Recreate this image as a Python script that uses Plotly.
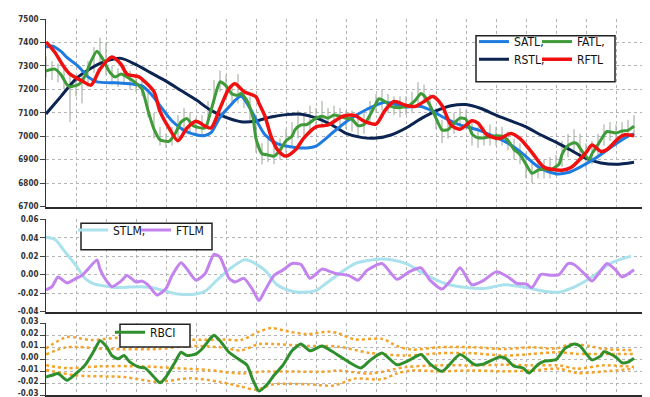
import plotly.graph_objects as go

# ---------------- data (x = bar number, 0..200) ----------------
RSTL_X = [0, 5, 10, 15, 20, 25, 30, 35, 40, 45, 50, 55, 60, 65, 70, 75, 80, 85, 90, 95, 100, 105, 110, 115, 120, 125, 130, 135, 140, 145, 150, 155, 160, 165, 170, 175, 180, 185, 190, 196]
RSTL_Y = [7095, 7170, 7245, 7290, 7320, 7332, 7305, 7270, 7235, 7195, 7155, 7110, 7080, 7062, 7065, 7082, 7092, 7094, 7078, 7050, 7012, 6995, 6992, 7005, 7035, 7075, 7108, 7130, 7135, 7118, 7090, 7065, 7040, 7005, 6975, 6940, 6905, 6886, 6880, 6889]

SATL_X = [0, 2, 5, 7, 11, 14, 17, 23, 28, 32, 35, 38, 42, 46, 50, 53, 55, 58, 61, 65, 68, 73, 77, 83, 87, 90, 96, 101, 107, 113, 120, 125, 128, 133, 138, 144, 150, 154, 158, 164, 170, 174, 178, 183, 188, 194, 196]
SATL_Y = [7380, 7385, 7362, 7336, 7295, 7253, 7232, 7228, 7224, 7215, 7180, 7130, 7065, 7025, 7006, 7003, 7015, 7080, 7125, 7170, 7119, 7006, 6968, 6952, 6950, 6958, 7020, 7070, 7115, 7145, 7125, 7127, 7112, 7077, 7048, 7027, 6995, 6970, 6935, 6870, 6840, 6845, 6868, 6905, 6950, 7000, 7010]

FATL_X = [0, 3, 5, 7, 8, 11, 13, 15, 17, 19, 21, 23, 25, 27, 30, 32, 34, 36, 38, 41, 43, 45, 47, 49, 53, 55, 57, 58, 60, 62, 64, 65, 67, 69, 70, 72, 74, 76, 78, 80, 82, 83, 85, 87, 90, 92, 94, 96, 98, 100, 102, 104, 106, 108, 110, 111, 113, 115, 118, 121, 123, 125, 126, 128, 130, 132, 134, 136, 138, 140, 142, 144, 147, 150, 152, 154, 156, 158, 160, 162, 164, 166, 168, 171, 172, 174, 176, 177, 179, 181, 182, 184, 186, 187, 190, 192, 194, 196]
FATL_Y = [7278, 7286, 7262, 7220, 7211, 7222, 7257, 7320, 7362, 7328, 7278, 7253, 7265, 7253, 7226, 7200, 7110, 7030, 6985, 6978, 7010, 7060, 7075, 7045, 7035, 7110, 7200, 7232, 7215, 7180, 7175, 7182, 7152, 7080, 6990, 6925, 6920, 6915, 6940, 6981, 7000, 7027, 7048, 7050, 7077, 7085, 7077, 7090, 7085, 7077, 7072, 7045, 7050, 7090, 7140, 7160, 7148, 7127, 7122, 7131, 7152, 7182, 7173, 7131, 7077, 7027, 7028, 7056, 7077, 7072, 7010, 6993, 6995, 7002, 7000, 6981, 6943, 6922, 6880, 6842, 6855, 6859, 6857, 6880, 6922, 6960, 6972, 6968, 6930, 6901, 6925, 6964, 7006, 7020, 7014, 7022, 7025, 7043]

RFTL_X = [0, 3, 6, 8, 12, 15, 18, 22, 25, 27, 31, 33, 36, 38, 41, 44, 47, 50, 53, 55, 58, 61, 63, 66, 70, 71, 73, 75, 77, 80, 83, 86, 90, 94, 99, 103, 106, 110, 113, 116, 120, 123, 126, 129, 132, 135, 138, 142, 144, 147, 151, 155, 158, 162, 166, 172, 175, 180, 182, 185, 187, 191, 193, 196]
RFTL_Y = [7402, 7357, 7295, 7265, 7236, 7218, 7286, 7338, 7307, 7265, 7253, 7232, 7190, 7106, 7035, 6981, 7035, 7064, 7043, 7035, 7119, 7203, 7224, 7190, 7168, 7140, 7085, 7000, 6945, 6915, 6940, 6993, 7040, 7048, 7085, 7088, 7064, 7052, 7110, 7148, 7131, 7127, 7148, 7169, 7131, 7048, 7030, 7066, 7056, 7006, 6990, 7012, 6990, 6930, 6868, 6855, 6866, 6930, 6962, 6935, 6943, 6993, 7006, 7002]

BAR_X = list(range(0, 197, 2))
BAR_LOW = [7250, 7240, 7230, 7200, 7060, 7170, 7140, 7210, 7270, 7300, 7260, 7220, 7210, 7230, 7200, 7190, 7170, 7080, 6990, 6960,
           6950, 6960, 6990, 7030, 7010, 7000, 7000, 7040, 7140, 7190, 7170, 7140, 7140, 7120, 7070, 6930, 6880, 6890, 6880, 6900,
           6930, 6960, 6990, 7000, 7020, 7040, 7040, 7040, 7050, 7040, 7030, 7020, 7000, 7010, 7050, 7100, 7110, 7100, 7090, 7080,
           7090, 7100, 7130, 7140, 7090, 7030, 6970, 6990, 7010, 7030, 7030, 6960, 6950, 6960, 6960, 6960, 6960, 6940, 6900, 6880,
           6820, 6800, 6820, 6820, 6820, 6830, 6870, 6910, 6930, 6900, 6860, 6880, 6920, 6960, 6980, 6980, 6980, 6990, 7000]
BAR_HIGH = [7340, 7320, 7310, 7300, 7270, 7260, 7270, 7320, 7380, 7420, 7400, 7300, 7290, 7300, 7280, 7260, 7240, 7200, 7100, 7040,
            7010, 7040, 7090, 7120, 7100, 7080, 7090, 7150, 7240, 7280, 7260, 7220, 7265, 7200, 7170, 7060, 6970, 6990, 6960, 6990,
            7030, 7060, 7110, 7100, 7130, 7120, 7150, 7120, 7130, 7120, 7110, 7110, 7090, 7100, 7150, 7180, 7200, 7180, 7170, 7170,
            7170, 7190, 7230, 7220, 7180, 7120, 7070, 7080, 7100, 7120, 7110, 7060, 7040, 7040, 7050, 7040, 7040, 7020, 6990, 6970,
            6930, 6890, 6900, 6900, 6910, 6920, 6980, 7010, 7030, 7010, 6970, 6980, 7010, 7050, 7060, 7050, 7060, 7070, 7090]

STLM_X = [0, 3, 6, 10, 13, 16, 21, 25, 31, 35, 40, 44, 50, 53, 57, 62, 66, 68, 73, 77, 82, 86, 90, 94, 100, 103, 112, 120, 126, 133, 140, 146, 153, 160, 166, 171, 175, 182, 188, 195]
STLM_Y = [0.0405, 0.038, 0.026, 0.010, -0.004, -0.010, -0.013, -0.014, -0.013, -0.014, -0.018, -0.021, -0.021, -0.018, -0.006, 0.008, 0.016, 0.015, 0.0046, -0.011, -0.018, -0.019, -0.017, -0.008, 0.006, 0.012, 0.017, 0.012, 0.001, -0.0096, -0.014, -0.015, -0.011, -0.014, -0.018, -0.019, -0.015, -0.0025, 0.012, 0.020]

FTLM_X = [0, 2, 4, 7, 10, 12, 14, 17, 18, 20, 22, 25, 27, 30, 32, 34, 37, 40, 42, 45, 47, 50, 53, 56, 58, 61, 63, 66, 69, 71, 73, 76, 79, 82, 85, 88, 92, 95, 97, 101, 104, 107, 112, 117, 121, 125, 128, 132, 135, 138, 142, 146, 150, 154, 157, 160, 162, 165, 168, 171, 174, 176, 180, 182, 185, 187, 190, 192, 196]
FTLM_Y = [-0.0166, -0.013, -0.0025, -0.009, -0.004, -0.001, 0.006, 0.016, 0.006, -0.006, -0.013, -0.007, -0.001, -0.008, -0.007, -0.011, -0.022, -0.015, -0.001, 0.013, 0.006, -0.006, 0.001, 0.022, 0.019, -0.004, -0.008, -0.004, -0.017, -0.028, -0.017, -0.001, 0.005, 0.012, 0.011, -0.004, 0.006, 0.003, 0.001, -0.001, -0.006, 0.0046, 0.012, -0.005, 0.003, 0.0074, -0.006, -0.0156, -0.006, 0.0074, -0.011, -0.006, 0.003, -0.0025, -0.0096, -0.010, -0.014, 0.0004, -0.0007, 0.0, 0.012, 0.011, -0.0007, -0.007, 0.0046, 0.012, 0.0046, -0.0025, 0.0053]

RBCI_X = [0, 2, 4, 7, 10, 13, 16, 18, 20, 22, 24, 26, 28, 31, 33, 36, 38, 40, 43, 45, 47, 50, 52, 55, 56, 58, 61, 64, 67, 69, 71, 74, 76, 79, 82, 85, 88, 92, 95, 97, 101, 105, 108, 112, 117, 121, 125, 128, 132, 138, 143, 146, 151, 153, 156, 159, 161, 164, 166, 170, 173, 176, 178, 182, 185, 186, 190, 192, 194, 196]
RBCI_Y = [-0.0149, -0.0135, -0.012, -0.0176, -0.012, -0.005, 0.007, 0.0154, 0.011, 0.003, 0.0003, 0.003, -0.0025, -0.0066, -0.0074, -0.0149, -0.0198, -0.0149, -0.0025, 0.0058, 0.003, 0.0044, 0.0085, 0.018, 0.020, 0.0154, 0.0058, 0.0003, -0.005, -0.0176, -0.0267, -0.0204, -0.0135, -0.005, 0.007, 0.0127, 0.007, 0.011, 0.007, 0.0039, -0.0025, -0.0074, -0.001, 0.0052, -0.0047, -0.001, 0.0039, -0.0039, -0.0102, 0.0039, -0.0047, -0.0039, 0.0017, 0.001, -0.0058, -0.0074, -0.0116, -0.0044, -0.0019, -0.0003, 0.009, 0.0127, 0.011, -0.0006, 0.003, 0.0063, 0.0017, -0.003, -0.0025, 0.0008]

BAND_UO_X = [0, 7, 15, 24, 37, 48, 60, 65, 71, 75, 81, 87, 94, 97, 103, 112, 117, 122, 131, 142, 153, 162, 170, 175, 181, 186, 196]
BAND_UO_Y = [0.009, 0.0185, 0.016, 0.018, 0.019, 0.0164, 0.0164, 0.016, 0.023, 0.026, 0.023, 0.021, 0.023, 0.022, 0.0165, 0.017, 0.011, 0.008, 0.010, 0.010, 0.0085, 0.010, 0.009, 0.0127, 0.011, 0.0085, 0.0075]
BAND_UI_X = [0, 7, 21, 37, 48, 58, 65, 71, 76, 87, 97, 108, 120, 131, 142, 153, 162, 171, 177, 186, 196]
BAND_UI_Y = [0.004, 0.010, 0.0085, 0.0085, 0.011, 0.010, 0.0074, 0.0127, 0.0127, 0.011, 0.0107, 0.0052, 0.003, 0.005, 0.005, 0.003, 0.0044, 0.0058, 0.0044, 0.0044, 0.0044]
BAND_LI_X = [0, 7, 18, 32, 43, 54, 65, 72, 82, 94, 97, 108, 120, 131, 142, 153, 162, 171, 177, 186, 196]
BAND_LI_Y = [-0.005, -0.0075, -0.006, -0.006, -0.0075, -0.009, -0.012, -0.0104, -0.0104, -0.0104, -0.0094, -0.012, -0.0066, -0.0052, -0.0052, -0.0047, -0.0052, -0.0052, -0.008, -0.0052, -0.0066]
BAND_LO_X = [0, 10, 26, 37, 48, 58, 65, 70, 76, 87, 96, 103, 112, 117, 122, 131, 142, 153, 162, 171, 177, 186, 196]
BAND_LO_Y = [-0.009, -0.0136, -0.015, -0.019, -0.016, -0.019, -0.023, -0.0255, -0.021, -0.021, -0.022, -0.0163, -0.0168, -0.012, -0.0094, -0.0102, -0.0094, -0.0102, -0.0094, -0.008, -0.0116, -0.0102, -0.008]

TOP_TICKS = [6700, 6800, 6900, 7000, 7100, 7200, 7300, 7400, 7500]
TOP_LABELS = ["6700", "6800", "6900", "7000", "7100", "7200", "7300", "7400", "7500"]
MID_TICKS = [-0.04, -0.02, 0.0, 0.02, 0.04, 0.06]
MID_LABELS = ["-0.04", "-0.02", "0.00", "0.02", "0.04", "0.06"]
BOT_TICKS = [-0.03, -0.02, -0.01, 0.0, 0.01, 0.02, 0.03]
BOT_LABELS = ["-0.03", "-0.02", "-0.01", "0.00", "0.01", "0.02", "0.03"]

# ---------------- figure ----------------
W, H = 650, 397
ML, MR, MT, MB = 38, 12, 9, 5
PW, PH = W - ML - MR, H - MT - MB


def px(xp):
    return (xp - ML) / PW


def py(yp):
    return (H - MB - yp) / PH


FONT = "DejaVu Sans Condensed, Liberation Sans Narrow, Liberation Sans, sans-serif"

fig = go.Figure()

# OHLC-like bars
bx, by = [], []
for x, lo, hi in zip(BAR_X, BAR_LOW, BAR_HIGH):
    bx += [x, x, None]
    by += [lo, hi, None]
fig.add_trace(go.Scatter(x=bx, y=by, mode="lines", line=dict(color="#9aa596", width=1),
                         showlegend=False, hoverinfo="skip", xaxis="x", yaxis="y"))


def line(x, y, name, color, width, legend, axis, smooth=0.8, dash=None, show=True, lw=None):
    fig.add_trace(go.Scatter(x=x, y=y, name=name, mode="lines",
                             line=dict(color=color, width=width, shape="spline", smoothing=smooth, dash=dash),
                             xaxis="x" if axis == 1 else "x%d" % axis,
                             yaxis="y" if axis == 1 else "y%d" % axis,
                             legend=legend, showlegend=show, legendwidth=lw))


line(RSTL_X, RSTL_Y, "RSTL,", "#0b2452", 3, "legend2", 1, lw=18)
line(SATL_X, SATL_Y, "SATL,", "#1e7be0", 3, "legend", 1, lw=18)
line(FATL_X, FATL_Y, "FATL,", "#3f9a3a", 3, "legend", 1, smooth=0.6, lw=40)
line(RFTL_X, RFTL_Y, "RFTL", "#f01010", 3.5, "legend2", 1, lw=40)

line(STLM_X, STLM_Y, "STLM,", "#a9e2ec", 3, "legend3", 2, lw=18)
line(FTLM_X, FTLM_Y, "FTLM", "#c383ee", 3, "legend3", 2, smooth=0.6, lw=40)

for bxs, bys in [(BAND_UO_X, BAND_UO_Y), (BAND_UI_X, BAND_UI_Y), (BAND_LI_X, BAND_LI_Y), (BAND_LO_X, BAND_LO_Y)]:
    line(bxs, bys, "band", "#f3a32a", 2.5, "legend4", 3, dash="dot", show=False)
line(RBCI_X, RBCI_Y, "RBCI", "#2f8f2c", 3, "legend4", 3, smooth=0.6, lw=40)

grid = dict(showgrid=True, gridcolor="#b4b4b4", gridwidth=1, griddash="dot", zeroline=False)
xcommon = dict(range=[0, 200], tick0=0, dtick=10, showticklabels=False, ticks="",
               showline=True, linecolor="#2a2a2a", linewidth=2, **grid)
ycommon = dict(ticks="outside", ticklen=5, tickcolor="#444", showline=True, linecolor="#333",
               linewidth=1, tickfont=dict(family=FONT, size=8, color="#333", weight="bold"), **grid)

fig.update_layout(
    width=W, height=H, margin=dict(l=ML, r=MR, t=MT, b=MB),
    paper_bgcolor="white", plot_bgcolor="white",
    xaxis=dict(domain=[0, 1], anchor="y", **xcommon),
    xaxis2=dict(domain=[0, 1], anchor="y2", matches="x", **xcommon),
    xaxis3=dict(domain=[0, 1], anchor="y3", matches="x", **xcommon),
    yaxis=dict(domain=[py(200), 1], range=[6700, 7500], tickvals=TOP_TICKS, ticktext=TOP_LABELS, **ycommon),
    yaxis2=dict(domain=[py(307), py(213)], range=[-0.04, 0.06], tickvals=MID_TICKS, ticktext=MID_LABELS, **ycommon),
    yaxis3=dict(domain=[0, py(319)], range=[-0.03, 0.03], tickvals=BOT_TICKS, ticktext=BOT_LABELS,
                ticklabelshift=-2, **ycommon),
)

lfont = dict(family=FONT, size=12, color="#111")
common_leg = dict(orientation="h", bgcolor="rgba(0,0,0,0)", borderwidth=0, font=lfont,
                  entrywidthmode="pixels", xanchor="left", yanchor="middle",
                  itemclick=False, itemdoubleclick=False, tracegroupgap=0)
fig.update_layout(
    legend=dict(x=px(466), y=py(32), **common_leg),
    legend2=dict(x=px(466), y=py(50), traceorder="normal", **common_leg),
    legend3=dict(x=px(65), y=py(224), **common_leg),
    legend4=dict(x=px(102), y=py(328), **common_leg),
)

boxes = [(468, 26, 607, 73), (73, 217, 204, 244), (112, 320, 182, 343)]
for x0, y0, x1, y1 in boxes:
    fig.add_shape(type="rect", xref="paper", yref="paper", x0=px(x0), x1=px(x1), y0=py(y1), y1=py(y0),
                  line=dict(color="#222", width=1.5), fillcolor="white", layer="above")

fig.write_html("out.html")
